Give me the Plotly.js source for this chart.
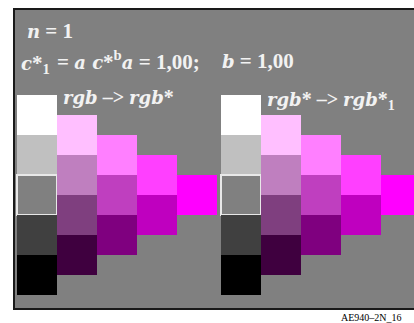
<!DOCTYPE html>
<html>
<head>
<meta charset="utf-8">
<script src="https://cdn.plot.ly/plotly-3.0.1.min.js"></script>
<style>html,body{margin:0;padding:0;background:#fff;}#chart{width:414px;height:323px;}</style>
</head>
<body>
<div id="chart"></div>
<script>
// Cell data: column index, starting row, colour (one staircase panel)
const cellCol = [0,0,0,0,0, 1,1,1,1, 2,2,2, 3,3, 4];
const cellRow = [0,1,2,3,4, 0.5,1.5,2.5,3.5, 1,2,3, 1.5,2.5, 2];
const cellColor = ['#ffffff','#c0c0c0','#808080','#404040','#000000',
                   '#ffbfff','#bf7fbf','#7f3f7f','#3f003f',
                   '#ff7fff','#bf3fbf','#7f007f',
                   '#ff3fff','#bf00bf',
                   '#ff00ff'];
const outlined = [0,0,1,0,0, 0,0,0,0, 0,0,0, 0,0, 0];
const panelOffset = [0, 5.1];

// italic serif pieces (Liberation Serif has no bold-italic face here)
const it = function(s, sz){ return '<span style="font-family:DejaVu Serif;font-style:italic;font-size:' + (sz || 18) + 'px">' + s + '</span>'; };
const panelTitles = [it('rgb') + ' –> ' + it('rgb') + '*', it('rgb') + '* –> ' + it('rgb') + '*<sub>1</sub>'];

const traces = panelOffset.map(function(off){
  return {
    type: 'bar',
    x: cellCol.map(function(c){ return c + 0.5 + off; }),
    y: cellCol.map(function(){ return 1; }),
    base: cellRow,
    width: cellCol.map(function(){ return 1; }),
    marker: {
      color: cellColor,
      line: {color: '#e8e8e8', width: outlined.map(function(o){ return o ? 2 : 0; })}
    },
    hoverinfo: 'skip',
    showlegend: false
  };
});

const px = function(p){ return (p - 14) / 400; };
const py = function(p){ return (309 - p) / 300; };
const SERIF = 'Liberation Serif';
const txtFont = {family: SERIF, size: 21, color: '#f2f2f2', weight: 'bold'};
const ann = function(text, x, y, size){
  return {text: text, x: px(x), y: py(y), xref: 'paper', yref: 'paper', xanchor: 'left', yanchor: 'middle',
          showarrow: false, borderpad: 0, borderwidth: 0, font: Object.assign({}, txtFont, {size: size || 21})};
};

const annotations = [
  ann(it('n') + ' = 1', 27, 31),
  ann(it('c') + '*<sub>1</sub>', 21, 64),
  ann('= ' + it('a c') + '*<sup>b</sup>' + it('a') + ' = 1,00;', 57, 60),
  ann(it('b') + ' = 1,00', 222, 61),
  ann(panelTitles[0], 63, 97, 20),
  ann(panelTitles[1], 267, 100, 20),
  {text: 'AE940–2N_16', x: px(402), y: py(317), xref: 'paper', yref: 'paper', xanchor: 'right', yanchor: 'middle',
   showarrow: false, borderpad: 0, borderwidth: 0, font: {family: SERIF, size: 10, color: '#000'}}
];

const layout = {
  width: 414, height: 323,
  margin: {l: 14, r: 0, t: 9, b: 14, pad: 0},
  paper_bgcolor: '#ffffff',
  plot_bgcolor: '#808080',
  barmode: 'overlay',
  bargap: 0,
  font: {family: SERIF},
  xaxis: {range: [-0.075, 9.925], showgrid: false, zeroline: false, showticklabels: false, ticks: '', fixedrange: true},
  yaxis: {range: [5.35, -2.15], showgrid: false, zeroline: false, showticklabels: false, ticks: '', fixedrange: true},
  shapes: [{type: 'rect', xref: 'paper', yref: 'paper', x0: 0, x1: 1.02, y0: 0, y1: 1, line: {color: '#1a1a1a', width: 2}, layer: 'above'}],
  annotations: annotations
};

Plotly.newPlot('chart', traces, layout, {staticPlot: true, displayModeBar: false});
</script>
</body>
</html>
